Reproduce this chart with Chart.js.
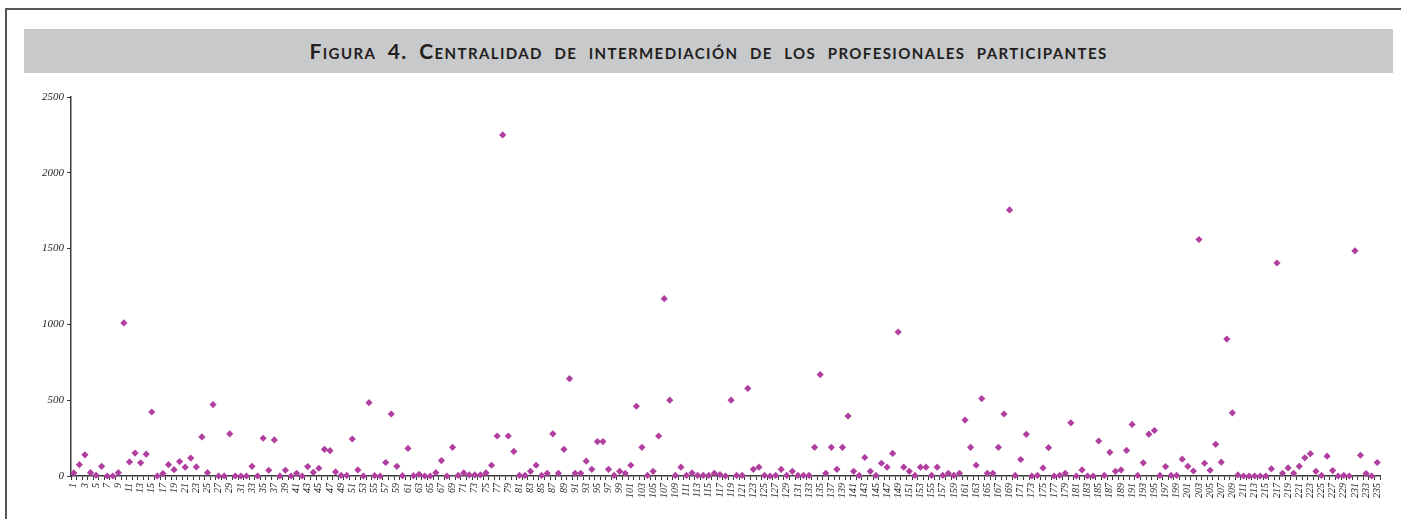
<!DOCTYPE html>
<html lang="es">
<head>
  <meta charset="UTF-8">
  <title>Figura 4</title>
  <style>
    body { margin: 0; width: 1401px; height: 519px; background: #fff; position: relative; overflow: hidden; }
    .frame { position: absolute; left: 5px; top: 8px; width: 1400px; height: 520px; border-top: 2px solid #555; border-left: 2px solid #555; }
    .banner {
      position: absolute; left: 24px; top: 29px; width: 1369px; height: 44px;
      background: #c8c9cb; color: #231f20;
      font-family: Lato, "Open Sans", sans-serif; font-weight: bold; font-size: 21px;
      font-variant: small-caps; text-align: center; line-height: 44px;
      letter-spacing: 1.4px; word-spacing: 5px;
    }
    .wrap { position: absolute; left: 0; top: 0; width: 1401px; height: 519px; }
  </style>
</head>
<body>
  <div class="frame"></div>
  <div class="banner">Figura 4. Centralidad de intermediación de los profesionales participantes</div>
  <div class="wrap"><canvas id="chart"></canvas></div>

  <script src="https://cdn.jsdelivr.net/npm/chart.js"></script>
  <script>
    // participant numbers 1..235
    const participants = [];
    for (let i = 1; i <= 235; i++) participants.push(String(i));

    // betweenness centrality
    const betweenness = [
      20, 75, 140, 22, 5, 64, 0, 0, 22, 1010,
      93, 151, 87, 144, 422, 0, 16, 75, 42, 95,
      58, 118, 60, 258, 22, 471, 0, 0, 278, 0,
      0, 0, 64, 0, 249, 38, 238, 0, 38, 0,
      18, 0, 62, 24, 51, 176, 167, 27, 4, 4,
      244, 40, 0, 484, 2, 0, 89, 409, 64, 2,
      182, 2, 11, 0, 0, 22, 102, 0, 189, 4,
      20, 7, 7, 7, 20, 71, 264, 2250, 264, 162,
      4, 4, 31, 71, 4, 18, 278, 18, 176, 642,
      18, 18, 98, 44, 227, 227, 44, 4, 31, 18,
      71, 460, 189, 4, 31, 264, 1170, 500, 4, 58,
      4, 20, 4, 4, 4, 18, 9, 0, 500, 4,
      4, 578, 44, 58, 4, 0, 4, 44, 4, 31,
      4, 4, 4, 189, 669, 18, 189, 44, 189, 395,
      31, 4, 122, 31, 4, 84, 58, 149, 950, 58,
      31, 4, 58, 58, 4, 58, 4, 18, 4, 18,
      369, 189, 71, 511, 18, 18, 189, 409, 1755, 4,
      109, 275, 0, 4, 53, 187, 0, 4, 18, 351,
      0, 40, 0, 0, 231, 4, 156, 31, 40, 169,
      340, 4, 87, 276, 300, 4, 62, 4, 4, 111,
      64, 33, 1560, 84, 38, 209, 91, 903, 417, 7,
      0, 0, 0, 0, 0, 47, 1405, 18, 53, 18,
      64, 120, 147, 31, 4, 131, 36, 0, 4, 0,
      1485, 137, 16, 0, 89
    ];

    const yTicks = [0, 500, 1000, 1500, 2000, 2500];
    const axisColor = '#3a3a3a';

    new Chart(document.getElementById('chart'), {
      type: 'line',
      data: {
        labels: participants,
        datasets: [{
          data: betweenness,
          showLine: false,
          pointStyle: 'rectRot',
          pointRadius: 3.6,
          pointHoverRadius: 3.6,
          pointBackgroundColor: '#b13fa0',
          pointBorderColor: '#b13fa0',
          pointBorderWidth: 0,
          clip: false
        }]
      },
      options: {
        responsive: true,
        maintainAspectRatio: false,
        animation: false,
        layout: { padding: { top: 97, right: 21, left: 0, bottom: 0 } },
        plugins: { legend: { display: false }, tooltip: { enabled: false } },
        scales: {
          x: {
            type: 'category',
            offset: true,
            afterFit: (s) => { s.height = 43; },
            grid: { display: true, offset: true, drawOnChartArea: false, drawTicks: true, tickLength: 4, color: axisColor, lineWidth: 1 },
            border: { display: true, color: axisColor, width: 1.5 },
            ticks: {
              autoSkip: false, minRotation: 90, maxRotation: 90, padding: 3,
              color: '#222',
              font: { family: '"Liberation Serif", serif', style: 'italic', size: 10 },
              callback: (v, i) => (i % 2 === 0 ? participants[i] : '')
            }
          },
          y: {
            min: yTicks[0],
            max: yTicks[yTicks.length - 1],
            afterFit: (s) => { s.width = 71; },
            afterBuildTicks: (s) => { s.ticks = yTicks.map(v => ({ value: v })); },
            grid: { display: true, drawOnChartArea: false, drawTicks: true, tickLength: 4, color: axisColor },
            border: { display: true, color: axisColor, width: 1.5 },
            ticks: {
              padding: 3, color: '#222',
              font: { family: '"Liberation Serif", serif', style: 'italic', size: 11 },
              callback: (v) => String(v)
            }
          }
        }
      }
    });
  </script>
</body>
</html>
